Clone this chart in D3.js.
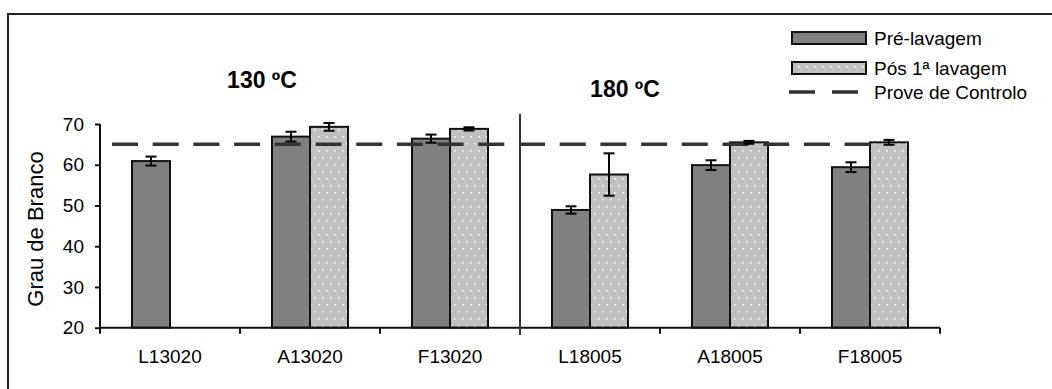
<!DOCTYPE html>
<html><head><meta charset="utf-8">
<script src="https://cdn.jsdelivr.net/npm/d3@7"></script>
<style>html,body{margin:0;padding:0;background:#fff;} svg{display:block;font-family:"Liberation Sans",Arial,sans-serif;}</style>
</head><body>
<svg id="c" width="1052" height="389"></svg>
<script>
const categories = ["L13020","A13020","F13020","L18005","A18005","F18005"];
const preValues = [60.9, 66.9, 66.4, 48.9, 59.9, 59.4];
const preErrors = [1.1, 1.2, 1.0, 0.9, 1.2, 1.2];
const postValues = [null, 69.3, 68.8, 57.6, 65.5, 65.5];
const postErrors = [null, 0.95, 0.4, 5.2, 0.35, 0.6];
const controlValue = 65;
const yTicks = [20, 30, 40, 50, 60, 70];
const seriesNames = ["Pré-lavagem", "Pós 1ª lavagem", "Prove de Controlo"];
const groupTitles = ["130 ºC", "180 ºC"];
const yTitle = "Grau de Branco";

const svg = d3.select("#c");
const defs = svg.append("defs");
const pat = defs.append("pattern").attr("id","dots").attr("patternUnits","userSpaceOnUse")
  .attr("width",8).attr("height",14);
pat.append("rect").attr("width",8).attr("height",14).attr("fill","#c0c0c0");
pat.append("rect").attr("x",2).attr("y",3).attr("width",1.6).attr("height",1.6).attr("fill","#fff");
pat.append("rect").attr("x",6).attr("y",10).attr("width",1.6).attr("height",1.6).attr("fill","#fff");

// frame
svg.append("rect").attr("x",8).attr("y",14).attr("width",1200).attr("height",500)
  .attr("fill","none").attr("stroke","#222").attr("stroke-width",2);

const x0 = 100, x1 = 940, yTop = 124, yBot = 327.7;
const x = d3.scaleBand().domain(categories).range([x0, x1]).paddingInner(0).paddingOuter(0);
const y = d3.scaleLinear().domain([20, 70]).range([yBot, yTop]);
const barW = 38;

// bars
const g = svg.append("g");
categories.forEach((c, i) => {
  const cx = x(c) + x.bandwidth() / 2;
  g.append("rect").attr("x", cx - barW).attr("y", y(preValues[i])).attr("width", barW)
    .attr("height", y(20) - y(preValues[i])).attr("fill", "#808080").attr("stroke", "#111").attr("stroke-width", 2);
  if (postValues[i] != null) {
    g.append("rect").attr("x", cx).attr("y", y(postValues[i])).attr("width", barW)
      .attr("height", y(20) - y(postValues[i])).attr("fill", "url(#dots)").attr("stroke", "#111").attr("stroke-width", 2);
  }
});

// control dashed line
const lineStart = x0 + 12, lineEnd = x(categories[5]) + x.bandwidth() / 2;
svg.append("line").attr("x1", lineStart).attr("x2", lineEnd).attr("y1", y(controlValue)).attr("y2", y(controlValue))
  .attr("stroke", "#333").attr("stroke-width", 3.5).attr("stroke-dasharray", "26,14.7");

// error bars
function errBar(cx, v, e) {
  const eg = svg.append("g").attr("stroke", "#000").attr("stroke-width", 2);
  eg.append("line").attr("x1", cx).attr("x2", cx).attr("y1", y(v + e)).attr("y2", y(v - e));
  eg.append("line").attr("x1", cx - 5.5).attr("x2", cx + 5.5).attr("y1", y(v + e)).attr("y2", y(v + e));
  eg.append("line").attr("x1", cx - 5.5).attr("x2", cx + 5.5).attr("y1", y(v - e)).attr("y2", y(v - e));
}
categories.forEach((c, i) => {
  const cx = x(c) + x.bandwidth() / 2;
  errBar(cx - barW / 2, preValues[i], preErrors[i]);
  if (postValues[i] != null) errBar(cx + barW / 2, postValues[i], postErrors[i]);
});

// y axis
const yAxis = svg.append("g").attr("transform", `translate(${x0},0)`)
  .call(d3.axisLeft(y).tickValues(yTicks).tickSize(5).tickPadding(11).tickFormat(d3.format("d")));
yAxis.select(".domain").attr("stroke", "#111").attr("stroke-width", 2).attr("d", `M0,${yTop}V${yBot}`);
yAxis.selectAll(".tick line").attr("stroke", "#111").attr("stroke-width", 2);
yAxis.selectAll("text").attr("font-size", 19).attr("fill", "#000").attr("font-family", "Liberation Sans, Arial, sans-serif");

// x axis
const xAxis = svg.append("g").attr("transform", `translate(0,${yBot})`)
  .call(d3.axisBottom(x).tickSize(0).tickPadding(22));
xAxis.select(".domain").attr("stroke", "#111").attr("stroke-width", 2).attr("d", `M${x0},0H${x1}`);
xAxis.selectAll("text").attr("font-size", 19).attr("fill", "#000").attr("font-family", "Liberation Sans, Arial, sans-serif");
// category boundary ticks
const bounds = categories.map(c => x(c)).concat([x1]);
svg.append("g").selectAll("line").data(bounds).join("line")
  .attr("x1", d => d).attr("x2", d => d).attr("y1", yBot).attr("y2", yBot + 6)
  .attr("stroke", "#111").attr("stroke-width", 2);

// divider between temperature groups
const divX = x(categories[3]);
svg.append("line").attr("x1", divX).attr("x2", divX).attr("y1", 114).attr("y2", 335)
  .attr("stroke", "#333").attr("stroke-width", 2);

// group titles
svg.append("text").attr("x", 262).attr("y", 88).attr("text-anchor", "middle")
  .attr("font-size", 23).attr("font-weight", "bold").text(groupTitles[0]);
svg.append("text").attr("x", 625).attr("y", 97).attr("text-anchor", "middle")
  .attr("font-size", 23).attr("font-weight", "bold").text(groupTitles[1]);

// y title
svg.append("text").attr("transform", "translate(43,229) rotate(-90)").attr("text-anchor", "middle")
  .attr("font-size", 22).attr("fill", "#000").text(yTitle);

// legend
const lg = svg.append("g");
lg.append("rect").attr("x", 792).attr("y", 32).attr("width", 74).attr("height", 12)
  .attr("fill", "#808080").attr("stroke", "#111").attr("stroke-width", 2);
lg.append("rect").attr("x", 792).attr("y", 62).attr("width", 74).attr("height", 12)
  .attr("fill", "url(#dots)").attr("stroke", "#111").attr("stroke-width", 2);
lg.append("line").attr("x1", 789).attr("x2", 858).attr("y1", 92).attr("y2", 92)
  .attr("stroke", "#333").attr("stroke-width", 3.5).attr("stroke-dasharray", "26,17");
[45, 75, 99].forEach((yy, i) => {
  lg.append("text").attr("x", 874).attr("y", yy).attr("font-size", 19).attr("fill", "#000").text(seriesNames[i]);
});
</script>
</body></html>
